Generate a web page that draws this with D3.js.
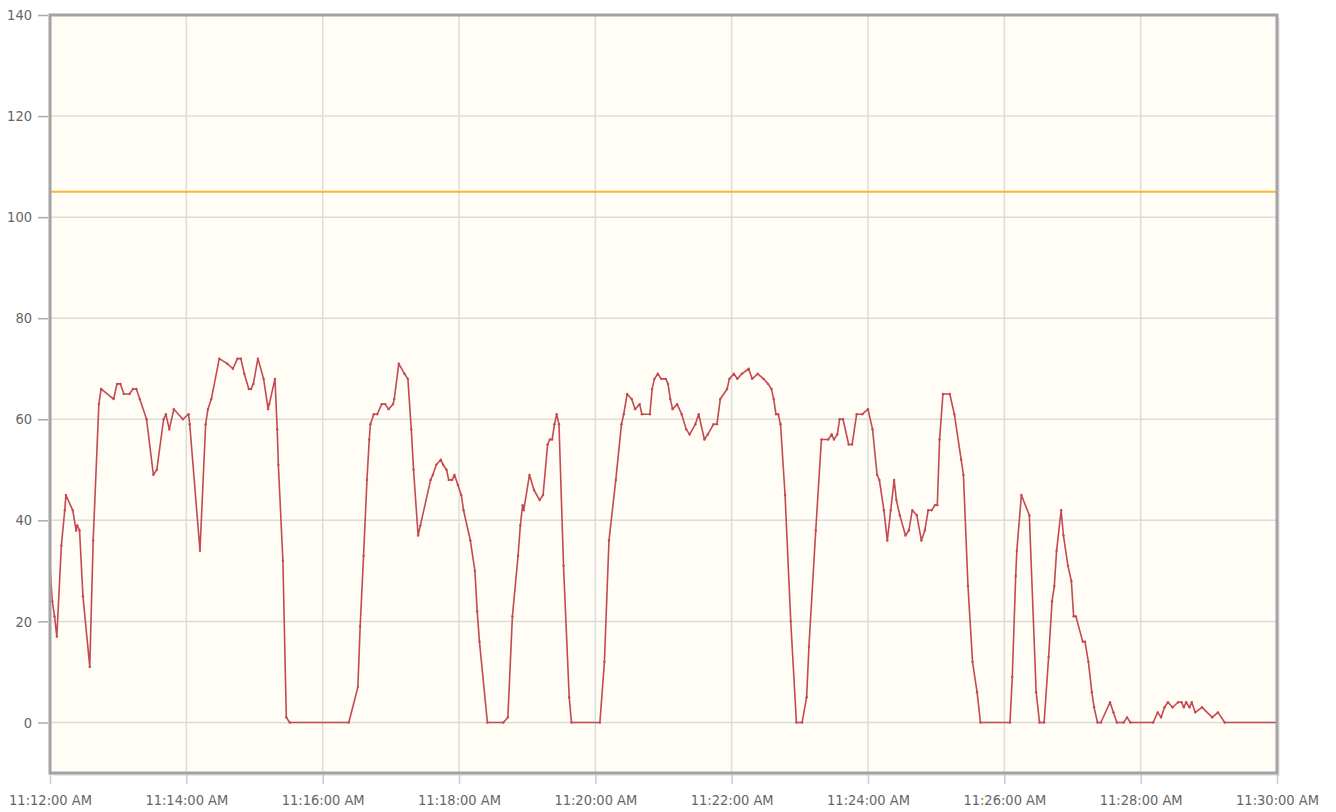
<!DOCTYPE html>
<html>
<head>
<meta charset="utf-8">
<script src="https://cdn.jsdelivr.net/npm/d3@7"></script>
<style>
  body { margin: 0; background: #fff; }
  .tick text { font-family: "DejaVu Sans", sans-serif; font-stretch: condensed; fill: #666; }
</style>
</head>
<body>
<svg id="chart" width="1336" height="812"></svg>
<script>
// seconds after 11:12:00 and the reading at that moment
const offsetsSec = [0,2,4,6,10,13,14,20,23,24,26,29,35,38,43,45,56,59,62,65,70,73,76,79,85,91,94,100,102,105,109,117,122,123,132,137,139,142,149,156,161,165,168,171,175,177,179,183,188,192,193,198,200,201,205,208,211,
  263,271,273,276,279,281,282,285,288,292,295,298,302,303,307,312,315,318,320,324,326,335,337,340,344,346,349,351,354,356,359,362,364,370,374,376,378,385,399,403,407,412,414,416,417,422,426,431,434,438,440,442,444,446,448,452,457,459,
  484,488,492,498,503,505,508,512,515,519,521,528,530,532,535,538,542,544,546,548,552,556,560,563,568,571,576,579,584,587,590,596,598,602,605,609,615,618,623,628,632,635,637,639,641,643,647,652,657,662,666,668,674,679,685,688,690,693,695,698,703,706,710,715,720,724,728,730,734,737,740,743,745,748,753,756,759,763,767,770,773,776,779,781,783,786,792,796,802,804,808,812,816,819,
  845,847,850,851,855,862,868,871,875,879,882,884,886,890,892,896,899,901,903,909,911,914,917,919,922,925,933,936,939,945,948,951,971,975,978,981,984,988,993,996,998,1000,1003,1005,1008,1014,1023,1028,1034,1080]
const readings = [31,24,21,17,35,42,45,42,38,39,38,25,11,36,63,66,64,67,67,65,65,66,66,64,60,49,50,60,61,58,62,60,61,59,34,59,62,64,72,71,70,72,72,69,66,66,67,72,68,62,63,68,58,51,32,1,0,
  0,7,19,33,48,56,59,61,61,63,63,62,63,64,71,69,68,58,50,37,39,48,49,51,52,51,50,48,48,49,47,45,42,36,30,22,16,0,0,1,21,33,39,43,42,49,46,44,45,55,56,56,59,61,59,31,5,0,
  0,12,36,48,59,61,65,64,62,63,61,61,66,68,69,68,68,67,64,62,63,61,58,57,59,61,56,57,59,59,64,66,68,69,68,69,70,68,69,68,67,66,64,61,61,59,45,20,0,0,5,15,38,56,56,57,56,57,60,60,55,55,61,61,62,58,49,48,42,36,42,48,44,41,37,38,42,41,36,38,42,42,43,43,56,65,65,61,52,49,27,12,6,0,
  0,9,29,34,45,41,6,0,0,13,24,27,34,42,37,31,28,21,21,16,16,12,6,3,0,0,4,2,0,0,1,0,0,2,1,3,4,3,4,4,3,4,3,4,2,3,1,2,0,0]
const limitValue = 105
const yTicks = [0, 20, 40, 60, 80, 100, 120, 140]
const xTickLabels = ['11:12:00 AM','11:14:00 AM','11:16:00 AM','11:18:00 AM','11:20:00 AM','11:22:00 AM','11:24:00 AM','11:26:00 AM','11:28:00 AM','11:30:00 AM']

const parseT = d3.timeParse('%I:%M:%S %p')
const start = parseT(xTickLabels[0])
const data = offsetsSec.map((s, i) => ({ t: new Date(+start + s * 1000), v: readings[i] }))

const plotL = 50, plotT = 15, plotR = 1277, plotB = 773
const svg = d3.select('#chart')

const x = d3.scaleTime()
  .domain([start, parseT(xTickLabels[xTickLabels.length - 1])])
  .range([plotL, plotR])
const y = d3.scaleLinear().domain([-10, 140]).range([plotB, plotT])

// shadow + background
svg.append('rect')
  .attr('x', plotL + 3).attr('y', plotT + 3)
  .attr('width', plotR - plotL).attr('height', plotB - plotT)
  .attr('fill', '#000').attr('opacity', 0.08)
svg.append('rect')
  .attr('x', plotL).attr('y', plotT)
  .attr('width', plotR - plotL).attr('height', plotB - plotT)
  .attr('fill', '#fffdf6')

// grid
svg.append('g')
  .selectAll('line')
  .data(yTicks)
  .join('line')
  .attr('x1', plotL).attr('x2', plotR)
  .attr('y1', d => y(d)).attr('y2', d => y(d))
  .attr('stroke', '#dcdcdc').attr('stroke-width', 1.5)
svg.append('g')
  .selectAll('line')
  .data(xTickLabels.map(parseT))
  .join('line')
  .attr('x1', d => x(d)).attr('x2', d => x(d))
  .attr('y1', plotT).attr('y2', plotB)
  .attr('stroke', '#dcdcdc').attr('stroke-width', 1.5)

// axes
const yAxis = d3.axisLeft(y).tickValues(yTicks).tickSize(10).tickPadding(6)
svg.append('g')
  .attr('transform', `translate(${plotL - 2},0)`)
  .call(yAxis)
  .call(g => g.select('.domain').remove())
  .call(g => g.selectAll('line').attr('stroke', '#aaa').attr('stroke-width', 1.5))
  .call(g => g.selectAll('text').attr('font-size', 14.5))

const xAxis = d3.axisBottom(x)
  .tickValues(xTickLabels.map(parseT))
  .tickFormat(d3.timeFormat('%-I:%M:%S %p'))
  .tickSize(10).tickPadding(11)
svg.append('g')
  .attr('transform', `translate(0,${plotB + 1})`)
  .call(xAxis)
  .call(g => g.select('.domain').remove())
  .call(g => g.selectAll('line').attr('stroke', '#ccc').attr('stroke-width', 1.5))
  .call(g => g.selectAll('text').attr('font-size', 14.5))

// limit line
svg.append('line')
  .attr('x1', plotL).attr('x2', plotR)
  .attr('y1', y(limitValue)).attr('y2', y(limitValue))
  .attr('stroke', '#fdb531').attr('stroke-width', 2)

// series
const line = d3.line().x(d => x(d.t)).y(d => y(d.v))
svg.append('path')
  .datum(data)
  .attr('d', line)
  .attr('fill', 'none')
  .attr('stroke', '#c44a50')
  .attr('stroke-width', 1.6)
  .attr('stroke-linejoin', 'round')
svg.append('g')
  .selectAll('circle')
  .data(data)
  .join('circle')
  .attr('cx', d => x(d.t)).attr('cy', d => y(d.v))
  .attr('r', 1.2)
  .attr('fill', '#c44a50')

// frame
svg.append('rect')
  .attr('x', plotL).attr('y', plotT)
  .attr('width', plotR - plotL).attr('height', plotB - plotT)
  .attr('fill', 'none')
  .attr('stroke', '#a3a3a3').attr('stroke-width', 3)
</script>
</body>
</html>
